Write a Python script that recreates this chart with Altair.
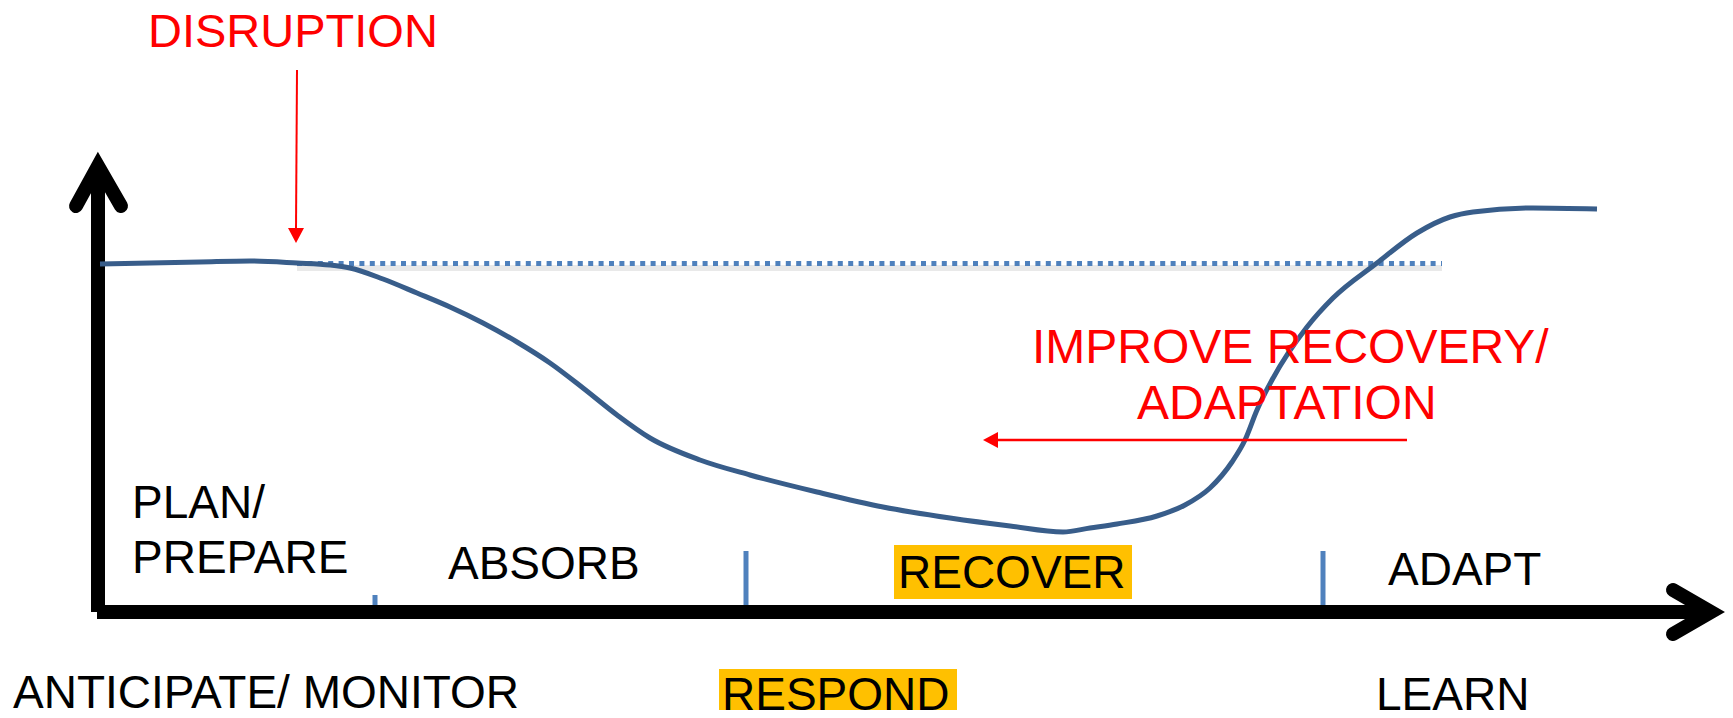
import altair as alt
import pandas as pd

# Coordinate frame: pixel positions of the reference picture (origin top-left)
X_DOMAIN = [8, 1725]
Y_DOMAIN = [8, 710]

# Resilience curve (blue)
curve_x = [100, 200, 250, 297, 330, 350, 383, 417, 450, 483, 517, 550, 583, 617, 650,
           700, 750, 817, 883, 950, 1010, 1063, 1090, 1117, 1157, 1185, 1210, 1232, 1245,
           1257, 1272, 1307, 1333, 1377, 1417, 1450, 1473, 1533, 1597]
curve_y = [264, 262, 261, 263, 265, 268, 279, 293, 307, 323, 342, 363, 388, 415, 438,
           460, 475, 492, 507, 518, 526, 532, 528, 524, 516, 505, 488, 462, 440,
           410, 380, 327, 298, 263, 233, 217, 212, 208, 209]

# Dotted pre-disruption level
level_x = [297, 1442]
level_y = [263.5, 263.5]

# Phase separators on the time axis
tick_x = [375, 746, 1323]
tick_top = [595, 551, 551]
tick_bottom = [612, 614, 612]

# Axes
yaxis_x = [98, 98]
yaxis_y = [612, 166]
xaxis_x = [97, 1711]
xaxis_y = [612, 612]
ychev_x = [76, 98, 121]
ychev_y = [206, 166, 206]
xchev_x = [1673, 1711, 1673]
xchev_y = [590, 612, 634]

# Red arrows
disrupt_x = [297, 296]
disrupt_y = [70, 229]
disrupt_head = (296, 235.5)
improve_x = [1407, 996]
improve_y = [440, 440]
improve_head = (990.5, 440)

# Highlight boxes
box_x = [894, 719]
box_x2 = [1132, 957]
box_y = [545, 669]
box_y2 = [599, 722]

# Labels
label_text = ["DISRUPTION", "PLAN/", "PREPARE", "ABSORB", "RECOVER", "ADAPT",
              "ANTICIPATE/ MONITOR", "RESPOND", "LEARN",
              "IMPROVE RECOVERY/", "ADAPTATION"]
label_x = [148, 132, 132, 448, 898, 1388, 13, 722, 1376, 1032, 1137]
label_y = [47, 518, 573, 579, 588, 585, 708, 710, 710, 363, 419]
label_color = ["#FF0000", "black", "black", "black", "black", "black",
               "black", "black", "black", "#FF0000", "#FF0000"]
label_size = [47, 46, 46, 46, 46, 46, 46, 46, 46, 48, 48]

xs = alt.Scale(domain=X_DOMAIN, nice=False, zero=False)
ys = alt.Scale(domain=Y_DOMAIN, reverse=True, nice=False, zero=False)


def X(f):
    return alt.X(f"{f}:Q", scale=xs, axis=None)


def Y(f):
    return alt.Y(f"{f}:Q", scale=ys, axis=None)


def seg_df(xv, yv):
    return pd.DataFrame({"x": [xv[0]], "y": [yv[0]], "x2": [xv[1]], "y2": [yv[1]]})


def rule(xv, yv, **kw):
    return alt.Chart(seg_df(xv, yv)).mark_rule(**kw).encode(
        x=X("x"), y=Y("y"), x2="x2:Q", y2="y2:Q")


def poly(xv, yv, **kw):
    df = pd.DataFrame({"x": xv, "y": yv, "o": list(range(len(xv)))})
    return alt.Chart(df).mark_line(**kw).encode(
        x=X("x"), y=Y("y"), order="o:Q")


boxes = alt.Chart(pd.DataFrame({"x": box_x, "x2": box_x2, "y": box_y, "y2": box_y2})).mark_rect(
    color="#FFC000").encode(x=X("x"), x2="x2:Q", y=Y("y"), y2="y2:Q")

shadow = rule(level_x, [268, 268], color="#BFBFBF", opacity=0.35, strokeWidth=6)
level = rule(level_x, level_y, color="#4F81BD", strokeWidth=5, strokeDash=[5, 5.4])

ticks = alt.Chart(pd.DataFrame({"x": tick_x, "y": tick_top, "y2": tick_bottom})).mark_rule(
    color="#4F81BD", strokeWidth=5).encode(x=X("x"), y=Y("y"), y2="y2:Q")

yaxis = rule(yaxis_x, yaxis_y, color="black", strokeWidth=14, strokeCap="butt")
xaxis = rule(xaxis_x, xaxis_y, color="black", strokeWidth=14, strokeCap="butt")
ychev = poly(ychev_x, ychev_y, color="black", strokeWidth=14, strokeCap="round", strokeJoin="miter")
xchev = poly(xchev_x, xchev_y, color="black", strokeWidth=14, strokeCap="round", strokeJoin="miter")

curve = poly(curve_x, curve_y, color="#385D8A", strokeWidth=5, interpolate="monotone",
             strokeCap="butt")

d_line = rule(disrupt_x, disrupt_y, color="#FF0000", strokeWidth=2)
d_head = alt.Chart(pd.DataFrame({"x": [disrupt_head[0]], "y": [disrupt_head[1]]})).mark_point(
    shape="M-1,-0.94L1,-0.94L0,0.94Z", filled=True, size=256, color="#FF0000", opacity=1,
    strokeWidth=0).encode(x=X("x"), y=Y("y"))
i_line = rule(improve_x, improve_y, color="#FF0000", strokeWidth=2.5)
i_head = alt.Chart(pd.DataFrame({"x": [improve_head[0]], "y": [improve_head[1]]})).mark_point(
    shape="M0.94,-1L0.94,1L-0.94,0Z", filled=True, size=256, color="#FF0000", opacity=1,
    strokeWidth=0).encode(x=X("x"), y=Y("y"))

labels = alt.Chart(pd.DataFrame({"t": label_text, "x": label_x, "y": label_y,
                                 "c": label_color, "s": label_size})).mark_text(
    align="left", baseline="alphabetic", font="Liberation Sans, Arial, sans-serif").encode(
    x=X("x"), y=Y("y"), text="t:N",
    color=alt.Color("c:N", scale=None),
    size=alt.Size("s:Q", scale=None))

chart = alt.layer(
    boxes, shadow, level, ticks, yaxis, xaxis, ychev, xchev, curve,
    d_line, d_head, i_line, i_head, labels
).properties(
    width=1717, height=702, padding=0, background="white",
    autosize=alt.AutoSizeParams(type="none")
).configure_view(stroke=None)

chart.save("out.html", embed_options={"renderer": "svg", "actions": False})
